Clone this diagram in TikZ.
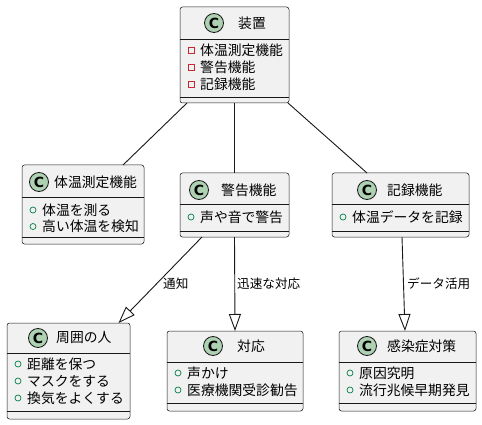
\documentclass[tikz,border=0pt]{standalone}
\usepackage{fontspec}
\setmainfont{Noto Sans CJK JP}
\newfontfamily\cfont{DejaVu Sans}
\usetikzlibrary{arrows.meta,calc}
\definecolor{boxfill}{HTML}{F1F1F1}
\definecolor{boxline}{HTML}{181818}
\definecolor{cfill}{HTML}{ADD1B2}
\definecolor{privred}{HTML}{C82930}
\definecolor{pubgreen}{HTML}{038048}
\begin{document}
\begin{tikzpicture}[x=1pt,y=-1pt,
 cls/.style={draw=boxline, fill=boxfill, line width=0.5pt, rounded corners=2.5pt, inner sep=0pt, outer sep=0pt},
 txt/.style={anchor=west, inner sep=0pt, font=\fontsize{13.8}{16}\selectfont, text=black},
 lbl/.style={anchor=west, inner sep=0pt, font=\fontsize{12.6}{15}\selectfont, text=black},
 cicon/.style={circle, draw=boxline, fill=cfill, line width=0.8pt, minimum size=19pt, inner sep=0pt, font=\cfont\bfseries\fontsize{14}{14}\selectfont},
 priv/.style={rectangle, draw=privred, line width=0.7pt, minimum size=6pt, inner sep=0pt},
 pub/.style={circle, draw=pubgreen, line width=0.7pt, minimum size=6pt, inner sep=0pt},
 sep/.style={draw=boxline, line width=0.5pt},
 conn/.style={draw=boxline, line width=0.9pt},
 ext/.style={conn, -{Triangle[open, length=17pt, width=12pt]}}
]
\useasboundingbox[fill=white] (0,0) rectangle (482,425);

% ---- boxes ----
\node[cls, minimum width=109pt, minimum height=96pt] (A) at (234.5,55) {};
\node[cls, minimum width=122pt, minimum height=79pt] (B) at (83,204.5) {};
\node[cls, minimum width=109pt, minimum height=64pt] (C) at (234.5,205) {};
\node[cls, minimum width=137pt, minimum height=64pt] (D) at (400.5,205) {};
\node[cls, minimum width=123pt, minimum height=96pt] (E) at (68.5,371) {};
\node[cls, minimum width=136pt, minimum height=80pt] (F) at (235,371) {};
\node[cls, minimum width=137pt, minimum height=80pt] (G) at (407.5,371) {};

% ---- separators ----
\draw[sep] (180,39) -- (289,39);  \draw[sep] (180,97) -- (289,97);
\draw[sep] (22,197) -- (144,197); \draw[sep] (22,237) -- (144,237);
\draw[sep] (180,204) -- (289,204); \draw[sep] (180,231) -- (289,231);
\draw[sep] (332,204) -- (469,204); \draw[sep] (332,231) -- (469,231);
\draw[sep] (7,353) -- (130,353);  \draw[sep] (7,411) -- (130,411);
\draw[sep] (167,362) -- (303,362); \draw[sep] (167,403) -- (303,403);
\draw[sep] (339,362) -- (476,362); \draw[sep] (339,403) -- (476,403);

% ---- headers ----
\node[cicon] (Ac) at (214,23) {C};  \node[txt] (At) at (238,23) {装置};
\node[cicon] (Bc) at (39,182) {C};  \node[txt] (Bt) at (54,182) {体温測定機能};
\node[cicon] (Cc) at (199,190) {C}; \node[txt] (Ct) at (221,190) {警告機能};
\node[cicon] (Dc) at (367,190) {C}; \node[txt] (Dt) at (387,190) {記録機能};
\node[cicon] (Ec) at (38,338) {C};  \node[txt] (Et) at (56,338) {周囲の人};
\node[cicon] (Fc) at (213,346) {C}; \node[txt] (Ft) at (237,346) {対応};
\node[cicon] (Gc) at (367,346) {C}; \node[txt] (Gt) at (387,346) {感染症対策};

% ---- members ----
\node[priv] (A1i) at (191,50) {}; \node[txt] (A1) at (200,50) {体温測定機能};
\node[priv] (A2i) at (191,67) {}; \node[txt] (A2) at (200,67) {警告機能};
\node[priv] (A3i) at (191,84) {}; \node[txt] (A3) at (200,84) {記録機能};

\node[pub] (B1i) at (33,210) {}; \node[txt] (B1) at (42,210) {体温を測る};
\node[pub] (B2i) at (33,226.5) {}; \node[txt] (B2) at (42,226.5) {高い体温を検知};

\node[pub] (C1i) at (191,217) {}; \node[txt] (C1) at (200,217) {声や音で警告};

\node[pub] (D1i) at (343,217) {}; \node[txt] (D1) at (352,217) {体温データを記録};

\node[pub] (E1i) at (18,364) {}; \node[txt] (E1) at (27,364) {距離を保つ};
\node[pub] (E2i) at (18,381) {}; \node[txt] (E2) at (27,381) {マスクをする};
\node[pub] (E3i) at (18,398) {}; \node[txt] (E3) at (27,398) {換気をよくする};

\node[pub] (F1i) at (178,373) {}; \node[txt] (F1) at (187,373) {声かけ};
\node[pub] (F2i) at (178,390) {}; \node[txt] (F2) at (187,390) {医療機関受診勧告};

\node[pub] (G1i) at (350,373) {}; \node[txt] (G1) at (359,373) {原因究明};
\node[pub] (G2i) at (350,390) {}; \node[txt] (G2) at (359,390) {流行兆候早期発見};

% ---- connectors ----
\draw[conn] ($(A.south)+(-47.5,0)$) -- ($(B.north)+(40,0)$);
\draw[conn] (A.south) -- (C.north);
\draw[conn] ($(A.south)+(53.5,0)$) -- ($(D.north)+(-33.5,0)$);
\draw[ext] ($(C.south)+(-32.5,0)$) -- ($(E.north)+(50,0)$);
\draw[ext] (C.south) -- (F.north);
\draw[ext] ($(D.south)+(1.5,0)$) -- ($(G.north)+(-2.5,0)$);

% ---- labels ----
\node[lbl] (L1) at (163,284) {通知};
\node[lbl] (L2) at (237,284) {迅速な対応};
\node[lbl] (L3) at (407,284) {データ活用};
\end{tikzpicture}
\end{document}
